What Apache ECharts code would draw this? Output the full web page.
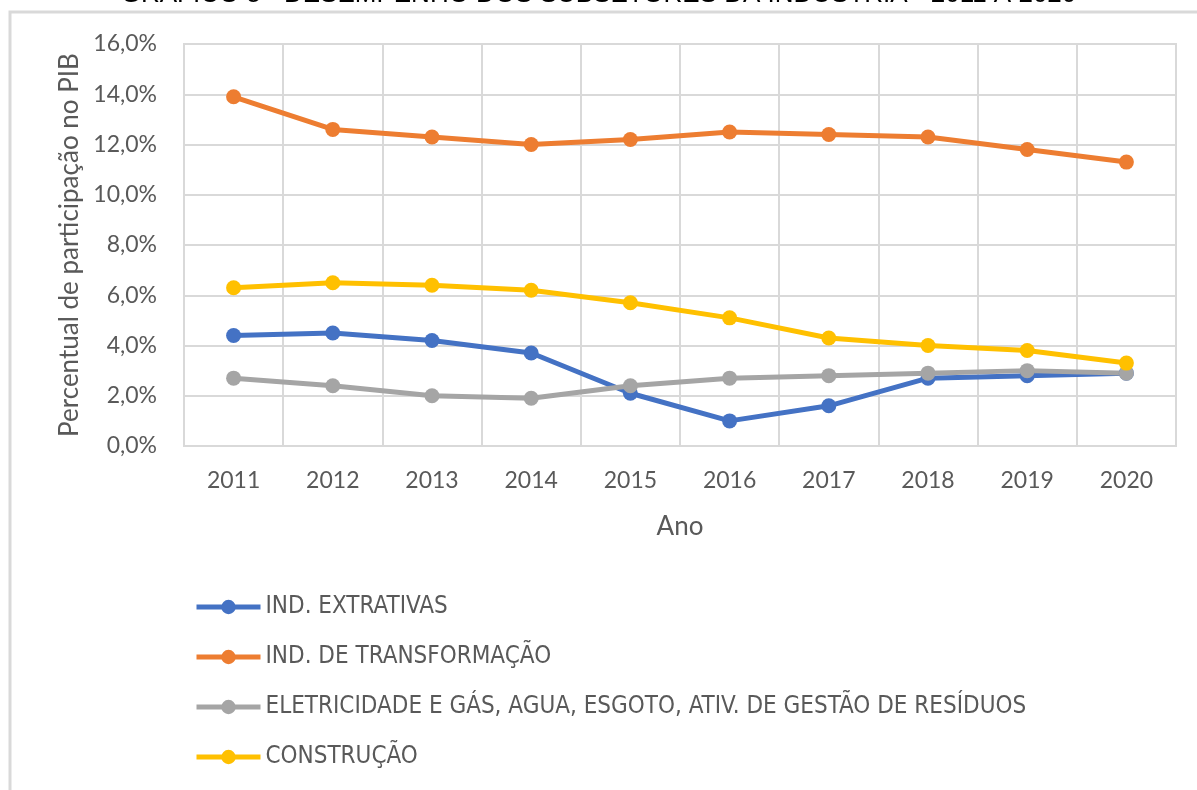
<!DOCTYPE html>
<html>
<head>
<meta charset="utf-8">
<script src="https://cdn.jsdelivr.net/npm/echarts@6/dist/echarts.min.js"></script>
<style>
  html, body { margin: 0; padding: 0; background: #fff; }
  #chart { width: 1197px; height: 790px; }
</style>
</head>
<body>
<div id="chart"></div>
<script>
// dados (% do PIB)
var anos = ['2011', '2012', '2013', '2014', '2015', '2016', '2017', '2018', '2019', '2020'];
var extrativas = [4.4, 4.5, 4.2, 3.7, 2.1, 1.0, 1.6, 2.7, 2.8, 2.9];
var transformacao = [13.9, 12.6, 12.3, 12.0, 12.2, 12.5, 12.4, 12.3, 11.8, 11.3];
var eletricidade = [2.7, 2.4, 2.0, 1.9, 2.4, 2.7, 2.8, 2.9, 3.0, 2.9];
var construcao = [6.3, 6.5, 6.4, 6.2, 5.7, 5.1, 4.3, 4.0, 3.8, 3.3];
var nomes = ['IND. EXTRATIVAS', 'IND. DE TRANSFORMAÇÃO',
  'ELETRICIDADE E GÁS, AGUA, ESGOTO, ATIV. DE GESTÃO DE RESÍDUOS', 'CONSTRUÇÃO'];
var cores = ['#4472C4', '#ED7D31', '#A5A5A5', '#FFC000'];
var titulo = 'GRÁFICO 5 - DESEMPENHO DOS SUBSETORES DA INDÚSTRIA - 2011 A 2020';

var myChart = echarts.init(document.getElementById('chart'));

function serie(nome, dados, cor) {
  return {
    name: nome,
    type: 'line',
    data: dados,
    symbol: 'circle',
    symbolSize: 15,
    lineStyle: { width: 5, color: cor },
    itemStyle: { color: cor },
    emphasis: { disabled: true }
  };
}

var option = {
  animation: false,
  backgroundColor: '#fff',
  color: cores,
  graphic: [
    {
      type: 'rect',
      shape: { x: 10, y: 12, width: 1400, height: 1000 },
      style: { fill: 'none', stroke: '#d9d9d9', lineWidth: 3 },
      silent: true
    },
    {
      type: 'text',
      left: 'center',
      y: -18,
      style: {
        text: titulo,
        font: '26px "Liberation Sans", Arial, sans-serif',
        fill: '#000'
      },
      silent: true
    }
  ],
  grid: {
    left: 184, right: 21, top: 44, bottom: 344,
    show: true, borderColor: '#d9d9d9', borderWidth: 2
  },
  legend: {
    orient: 'vertical',
    left: 189,
    top: 590,
    itemWidth: 64,
    itemHeight: 18,
    itemGap: 26,
    lineStyle: { width: 5 },
    textStyle: {
      fontFamily: '"Liberation Sans Narrow", "DejaVu Sans Condensed", sans-serif',
      fontSize: 24,
      color: '#595959'
    },
    data: nomes
  },
  xAxis: {
    type: 'category',
    data: anos,
    boundaryGap: true,
    name: 'Ano',
    nameLocation: 'middle',
    nameGap: 68,
    nameTextStyle: { fontFamily: 'Lato', fontSize: 26, color: '#595959' },
    axisTick: { show: false },
    axisLine: { lineStyle: { color: '#d9d9d9', width: 2 } },
    axisLabel: { margin: 23, fontFamily: 'Lato', fontSize: 23, color: '#595959' },
    splitLine: { show: true, lineStyle: { color: '#d9d9d9', width: 2 } }
  },
  yAxis: {
    type: 'value',
    min: 0,
    max: 16,
    interval: 2,
    name: 'Percentual de participação no PIB',
    nameLocation: 'middle',
    nameGap: 100,
    nameTextStyle: { fontFamily: 'Lato', fontSize: 26, color: '#595959' },
    axisLine: { show: false },
    axisTick: { show: false },
    axisLabel: {
      margin: 27,
      fontFamily: 'Lato',
      fontSize: 23,
      color: '#595959',
      formatter: function (v) { return v.toFixed(1).replace('.', ',') + '%'; }
    },
    splitLine: { lineStyle: { color: '#d9d9d9', width: 2 } }
  },
  series: [
    serie(nomes[0], extrativas, cores[0]),
    serie(nomes[1], transformacao, cores[1]),
    serie(nomes[2], eletricidade, cores[2]),
    serie(nomes[3], construcao, cores[3])
  ]
};

myChart.setOption(option);
</script>
</body>
</html>
